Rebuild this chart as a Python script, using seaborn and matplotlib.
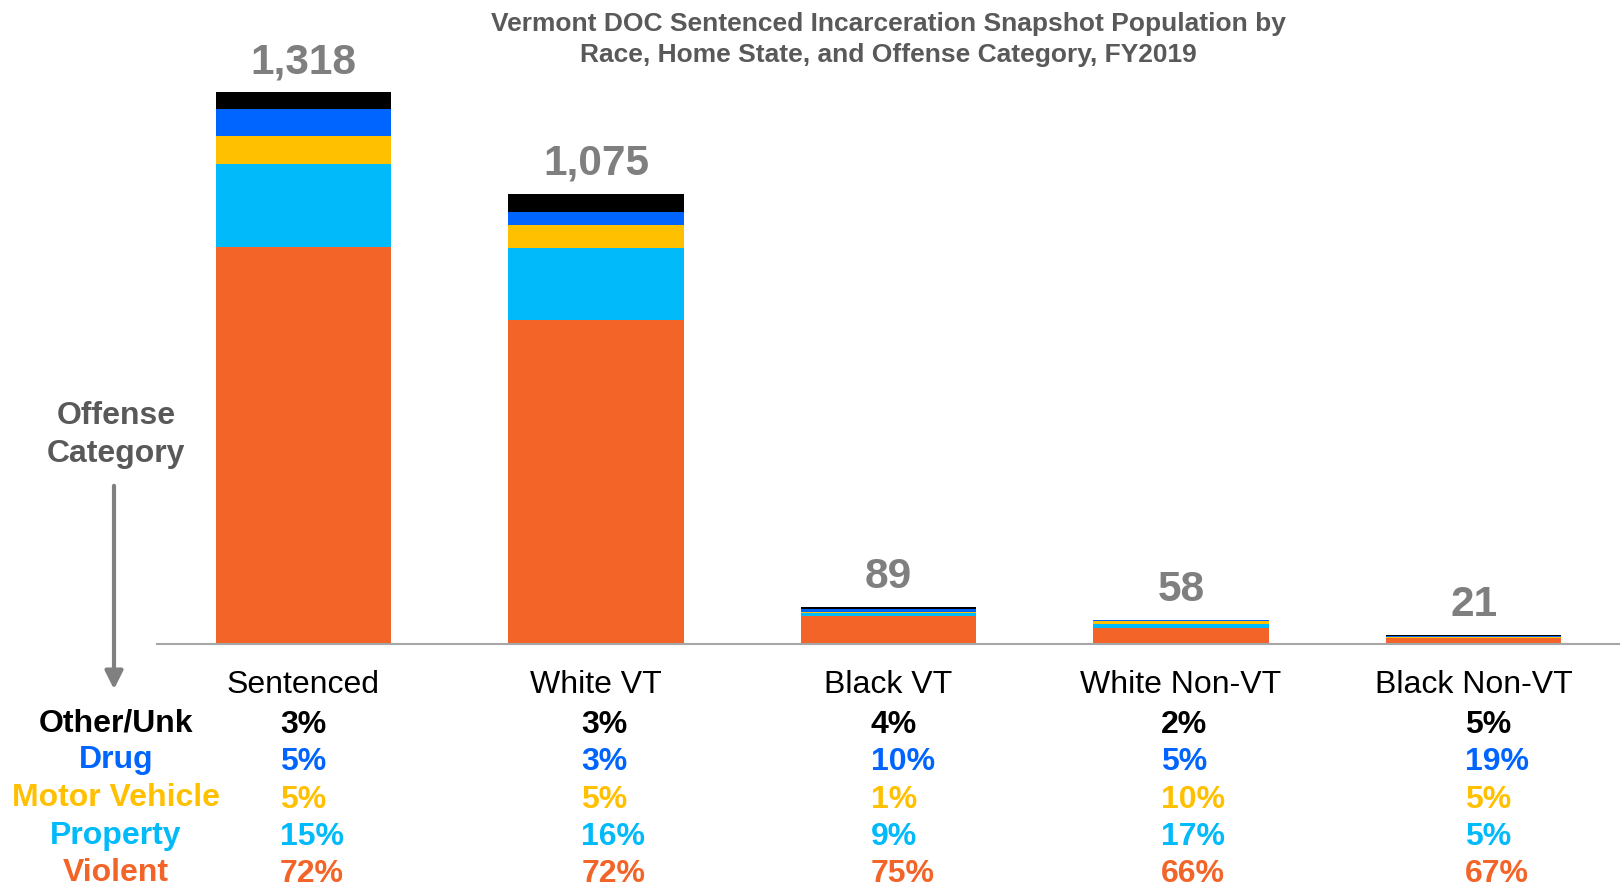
import matplotlib
matplotlib.use("Agg")
import matplotlib.pyplot as plt
import matplotlib.transforms as mtransforms
import pandas as pd
import seaborn as sns

# data
groups = ["Sentenced", "White VT", "Black VT", "White Non-VT", "Black Non-VT"]
totals = [1318, 1075, 89, 58, 21]

offenses = ["Other/Unk", "Drug", "Motor Vehicle", "Property", "Violent"]
other_pct = [3, 3, 4, 2, 5]
drug_pct = [5, 3, 10, 5, 19]
motor_pct = [5, 5, 1, 10, 5]
property_pct = [15, 16, 9, 17, 5]
violent_pct = [72, 72, 75, 66, 67]

offense_colors = {
    "Other/Unk": "#000000",
    "Drug": "#0064FF",
    "Motor Vehicle": "#FFC000",
    "Property": "#00BAFA",
    "Violent": "#F26428",
}

df = pd.DataFrame({
    "group": groups,
    "total": totals,
    "Other/Unk": other_pct,
    "Drug": drug_pct,
    "Motor Vehicle": motor_pct,
    "Property": property_pct,
    "Violent": violent_pct,
})

# cumulative tops of each stacked segment (bottom = Violent)
df["Violent_top"] = df["total"] * df["Violent"] / 100
df["Property_top"] = df["total"] * (df["Violent"] + df["Property"]) / 100
df["Motor Vehicle_top"] = df["total"] * (df["Violent"] + df["Property"] + df["Motor Vehicle"]) / 100
df["Drug_top"] = df["total"] * (df["Violent"] + df["Property"] + df["Motor Vehicle"] + df["Drug"]) / 100
df["Other/Unk_top"] = df["total"]

sns.set_style("white")
plt.rcParams["font.family"] = ["Liberation Sans", "DejaVu Sans"]

W, H = 1620, 889
fig = plt.figure(figsize=(W / 100, H / 100), dpi=100)
ax = fig.add_axes([157 / W, (H - 644) / H, (W - 157) / W, 552 / H])

# draw tallest layer first so the shorter ones sit on top of it
for name in ["Other/Unk", "Drug", "Motor Vehicle", "Property", "Violent"]:
    sns.barplot(data=df, x="group", y=name + "_top", order=groups,
                color=offense_colors[name], saturation=1, width=0.6,
                linewidth=0, ax=ax)

ax.set_xlim(-0.5, 4.5)
ax.set_ylim(0, max(totals))
ax.set_xlabel("")
ax.set_ylabel("")
ax.set_yticks([])
for s in ["top", "right", "left"]:
    ax.spines[s].set_visible(False)
ax.spines["bottom"].set_color("#A6A6A6")
ax.spines["bottom"].set_linewidth(1.5)

ax.set_xticks(range(len(groups)))
ax.set_xticklabels(groups, fontsize=23, color="black")
ax.set_xticks([-0.5, 0.5, 1.5, 2.5, 3.5], minor=True)
ax.tick_params(axis="x", which="major", length=0, pad=35.5)
ax.tick_params(axis="x", which="minor", length=6.5, width=1.2,
               color="#A6A6A6", direction="out")
for lab in ax.get_xticklabels():
    lab.set_va("baseline")

# total labels above bars
for i, t in enumerate(totals):
    ax.annotate(f"{t:,}", xy=(i, t), xytext=(0, 19), textcoords="offset pixels",
                ha="center", va="baseline", fontsize=30.5, fontweight="bold",
                color="#7F7F7F")

# title
fig.text(888 / W, (H - 31) / H,
         "Vermont DOC Sentenced Incarceration Snapshot Population by",
         ha="center", va="baseline", fontsize=19, fontweight="bold", color="#595959")
fig.text(888 / W, (H - 62) / H,
         "Race, Home State, and Offense Category, FY2019",
         ha="center", va="baseline", fontsize=19, fontweight="bold", color="#595959")

# offense category legend with arrow
fig.text(116 / W, (H - 424) / H, "Offense", ha="center", va="baseline",
         fontsize=23, fontweight="bold", color="#595959")
fig.text(116 / W, (H - 462) / H, "Category", ha="center", va="baseline",
         fontsize=23, fontweight="bold", color="#595959")
fig.add_artist(matplotlib.patches.FancyArrowPatch(
    (114 / W, (H - 483) / H), (114 / W, (H - 692) / H),
    transform=fig.transFigure, arrowstyle="-|>,head_length=0.4,head_width=0.2",
    mutation_scale=27, color="#808080", linewidth=3))

# percentage table under the axis
label_base = [731, 768, 806, 844, 881]
pct_base = [733, 770, 808, 845, 882]
pct_left = [-0.08, 0.95, 1.94, 2.93, 3.97]
trans = mtransforms.blended_transform_factory(ax.transData, fig.transFigure)
for r, name in enumerate(offenses):
    c = offense_colors[name]
    fig.text(116 / W, (H - label_base[r]) / H, name, ha="center", va="baseline",
             fontsize=23, fontweight="bold", color=c)
    for j, v in enumerate(df[name]):
        ax.text(pct_left[j], (H - pct_base[r]) / H, f"{v}%", transform=trans,
                ha="left", va="baseline", fontsize=23, fontweight="bold", color=c,
                clip_on=False)

fig.savefig("out.png", dpi=100)
